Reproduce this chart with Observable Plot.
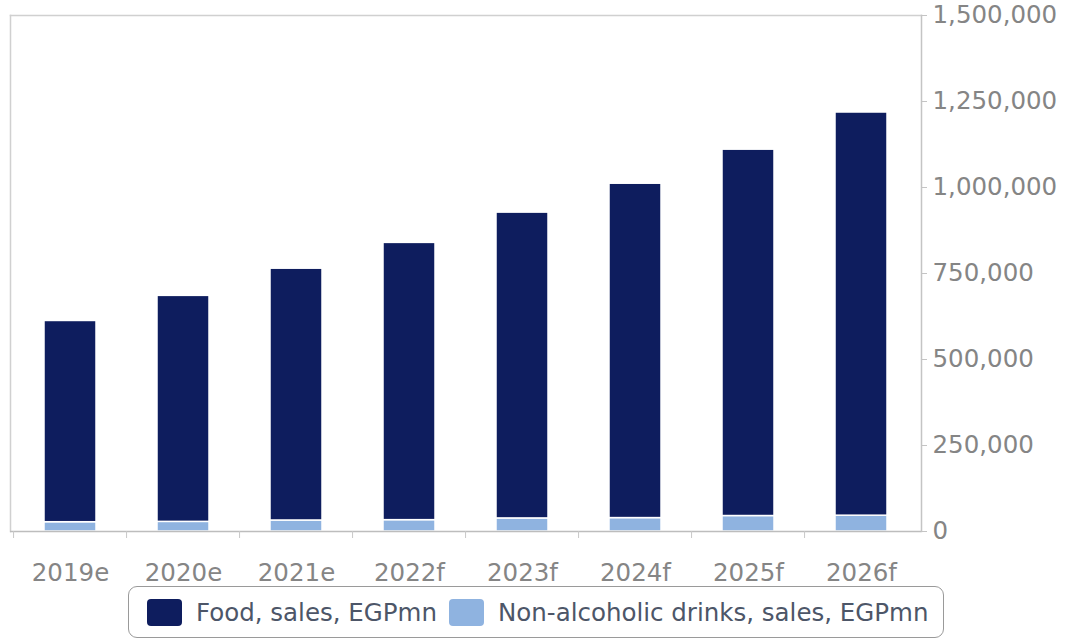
<!DOCTYPE html>
<html>
<head>
<meta charset="utf-8">
<script src="https://cdn.jsdelivr.net/npm/d3@7"></script>
<script src="https://cdn.jsdelivr.net/npm/@observablehq/plot@0.6"></script>
<style>
  body { margin: 0; background: #fff; }
  #wrap { position: relative; width: 1069px; height: 643px; }
  #legend {
    position: absolute; left: 128px; top: 586px; width: 814px; height: 50px;
    border: 1.5px solid #9a9a9a; border-radius: 9px; box-sizing: content-box;
    display: flex; align-items: center; font-family: "DejaVu Sans", sans-serif;
    font-size: 24.5px; color: #4d5668;
  }
  .sw { width: 35px; height: 27px; border-radius: 4px; flex: none; }
  .lab { margin-left: 14px; white-space: nowrap; }
</style>
</head>
<body>
<div id="wrap"><div id="chart"></div><div id="legend"></div></div>
<script>
const years = ["2019e","2020e","2021e","2022f","2023f","2024f","2025f","2026f"];
const foodSales = [585000, 657000, 732000, 806000, 889000, 972000, 1065000, 1172000];
const drinkSales = [27000, 28000, 32000, 33000, 38000, 39000, 45000, 46000];
const seriesNames = ["Food, sales, EGPmn", "Non-alcoholic drinks, sales, EGPmn"];
const seriesColors = ["#0e1d5e", "#8fb3e0"];
const yTicks = [0, 250000, 500000, 750000, 1000000, 1250000, 1500000];

const rows = [];
years.forEach((y, i) => {
  rows.push({year: y, series: seriesNames[1], value: drinkSales[i]});
  rows.push({year: y, series: seriesNames[0], value: foodSales[i]});
});

const W = 1069, H = 586, mL = 10, mR = 148, mT = 15, mB = 55;
const step = (W - mL - mR) / years.length;

const chart = Plot.plot({
  width: W, height: H,
  marginLeft: mL, marginRight: mR, marginTop: mT, marginBottom: mB,
  style: {fontFamily: "DejaVu Sans, sans-serif", fontSize: "24.5px", color: "#858585", background: "#fff"},
  x: {type: "band", domain: years, paddingInner: 0.54, paddingOuter: 0.27, label: null},
  y: {domain: [0, 1500000], label: null},
  color: {domain: seriesNames, range: seriesColors},
  marks: [
    Plot.frame({anchor: "top", stroke: "#d0d0d0", strokeWidth: 1.5}),
    Plot.frame({anchor: "left", stroke: "#d0d0d0", strokeWidth: 1.5}),
    Plot.barY(rows, {x: "year", y: "value", fill: "series", order: [seriesNames[1], seriesNames[0]], stroke: "white", strokeWidth: 1.5}),
    Plot.ruleY([0], {stroke: "#bdbdbd", strokeWidth: 1.5}),
    Plot.frame({anchor: "right", stroke: "#c4c4c4", strokeWidth: 1.5}),
    Plot.axisY({anchor: "right", ticks: yTicks, tickFormat: d3.format(","), tickSize: 5, tickPadding: 6, stroke: "#c4c4c4", label: null}),
    Plot.axisX({anchor: "bottom", tickSize: 0, tickPadding: 32, label: null}),
    Plot.axisX({anchor: "bottom", tickSize: 7, text: null, dx: -step / 2, stroke: "#c8c8c8", label: null})
  ]
});
document.getElementById("chart").appendChild(chart);

const legend = document.getElementById("legend");
seriesNames.forEach((name, i) => {
  const sw = document.createElement("span");
  sw.className = "sw";
  sw.style.background = seriesColors[i];
  sw.style.marginLeft = i === 0 ? "18px" : "12px";
  const lab = document.createElement("span");
  lab.className = "lab";
  lab.textContent = name;
  legend.appendChild(sw);
  legend.appendChild(lab);
});
</script>
</body>
</html>
